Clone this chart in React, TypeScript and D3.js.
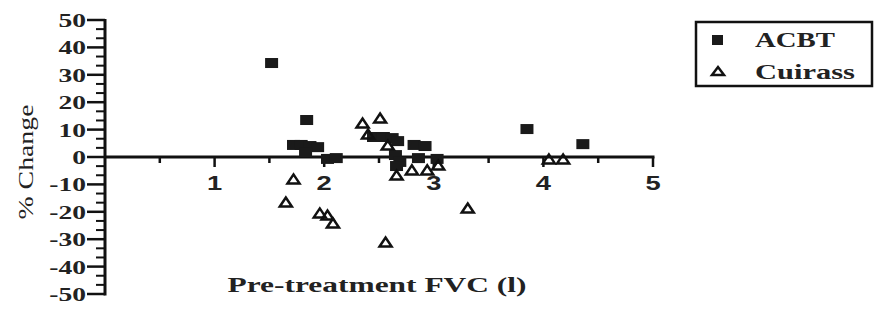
import React from "react";
import * as d3 from "d3";

const acbtX = [1.52, 1.84, 1.72, 1.79, 1.87, 1.94, 1.83, 2.03, 2.11, 2.45, 2.54, 2.62, 2.67, 2.82, 2.92, 2.65, 2.69, 2.66, 2.86, 3.03, 3.85, 4.36];
const acbtY = [34.3, 13.5, 4.4, 4.4, 4.0, 3.6, 1.8, -0.7, -0.4, 7.3, 7.3, 6.9, 5.8, 4.4, 4.0, 0.7, -1.8, -3.3, -0.4, -0.7, 10.2, 4.7];
const cuirassX = [2.35, 2.51, 2.40, 2.58, 1.72, 1.65, 1.96, 2.03, 2.08, 2.56, 3.31, 2.66, 2.80, 2.94, 3.04, 4.05, 4.18];
const cuirassY = [12.4, 14.2, 8.4, 4.4, -8, -16.4, -20.4, -21.2, -24.1, -31, -18.6, -6.6, -4.7, -4.7, -2.9, -0.7, -0.7];
const yTicks = [50, 40, 30, 20, 10, 0, -10, -20, -30, -40, -50];
const xTicks = [1, 2, 3, 4, 5];
const seriesNames = ["ACBT", "Cuirass"];

const SERIF = "'Liberation Serif', 'Times New Roman', serif";
const SANS = "'Liberation Sans', Arial, sans-serif";

export default function App() {
  const x = d3.scaleLinear().domain([0, 5]).range([105, 653]);
  const y = d3.scaleLinear().domain([-50, 50]).range([294, 20]);
  const minorY = d3.range(-50, 50.01, 10 / 3).filter((v) => Math.abs(Math.round(v) - v) > 0.01 || Math.round(v) % 10 !== 0);
  const minorX = d3.range(0.5, 5, 1);
  const tri = (cx: number, cy: number, w = 12, h = 9) =>
    `M${cx - w / 2},${cy + h / 2}L${cx},${cy - h / 2}L${cx + w / 2},${cy + h / 2}Z`;
  const acbt = acbtX.map((v, i) => [v, acbtY[i]]);
  const cuirass = cuirassX.map((v, i) => [v, cuirassY[i]]);
  return (
    <svg width={874} height={326} style={{ position: "absolute", left: 0, top: 0, background: "#fff" }}>
      <rect x={0} y={0} width={874} height={326} fill="#fff" />
      {/* Y axis */}
      <line x1={x(0)} x2={x(0)} y1={y(50) - 1} y2={y(-50) + 1.5} stroke="#111" strokeWidth={3} />
      {yTicks.map((t) => (
        <g key={"yt" + t}>
          <line x1={x(0) - 18} x2={x(0)} y1={y(t)} y2={y(t)} stroke="#111" strokeWidth={2.5} />
          <text
            transform={`translate(${x(0) - 19},${y(t) + 7}) scale(1.45,1)`}
            textAnchor="end"
            fontFamily={SERIF}
            fontWeight="bold"
            fontSize={19}
            fill="#222"
          >
            {t}
          </text>
        </g>
      ))}
      {minorY.map((t, i) => (
        <line key={"ym" + i} x1={x(0) - 9} x2={x(0)} y1={y(t)} y2={y(t)} stroke="#111" strokeWidth={2} />
      ))}
      {/* X axis */}
      <line x1={x(0)} x2={x(5) + 1.5} y1={y(0)} y2={y(0)} stroke="#111" strokeWidth={3} />
      {xTicks.map((t) => (
        <g key={"xt" + t}>
          <line x1={x(t)} x2={x(t)} y1={y(0)} y2={y(0) + 10} stroke="#111" strokeWidth={2.5} />
          <text
            transform={`translate(${x(t)},${y(0) + 33}) scale(1.3,1)`}
            textAnchor="middle"
            fontFamily={SANS}
            fontWeight="bold"
            fontSize={21}
            fill="#222"
          >
            {t}
          </text>
        </g>
      ))}
      {minorX.map((t) => (
        <line key={"xm" + t} x1={x(t)} x2={x(t)} y1={y(0)} y2={y(0) + 6} stroke="#111" strokeWidth={2.5} />
      ))}
      {/* Axis titles */}
      <text
        transform={`translate(33,162) rotate(-90)`}
        textAnchor="middle"
        fontFamily={SERIF}
        fontSize={22}
        fill="#222"
        textLength={115}
        lengthAdjust="spacingAndGlyphs"
      >
        % Change
      </text>
      <text
        x={377}
        y={292}
        textAnchor="middle"
        fontFamily={SERIF}
        fontWeight="bold"
        fontSize={21}
        fill="#222"
        textLength={299}
        lengthAdjust="spacingAndGlyphs"
      >
        Pre-treatment FVC (l)
      </text>
      {/* Data */}
      {acbt.map(([a, b], i) => (
        <rect key={"a" + i} x={x(a) - 6.5} y={y(b) - 5} width={13} height={10} fill="#1a1a1a" />
      ))}
      {cuirass.map(([a, b], i) => (
        <path key={"c" + i} d={tri(x(a), y(b))} fill="none" stroke="#111" strokeWidth={2.5} strokeLinejoin="miter" />
      ))}
      {/* Legend */}
      <rect x={696} y={22} width={176} height={64} fill="#fff" stroke="#111" strokeWidth={2.5} />
      <rect x={712} y={35} width={11} height={10} fill="#1a1a1a" />
      <text x={755} y={47} fontFamily={SERIF} fontWeight="bold" fontSize={21} fill="#222" textLength={80} lengthAdjust="spacingAndGlyphs">
        {seriesNames[0]}
      </text>
      <path d={tri(718, 71, 12, 8)} fill="none" stroke="#111" strokeWidth={2.5} />
      <text x={755} y={79} fontFamily={SERIF} fontWeight="bold" fontSize={21} fill="#222" textLength={100} lengthAdjust="spacingAndGlyphs">
        {seriesNames[1]}
      </text>
    </svg>
  );
}
